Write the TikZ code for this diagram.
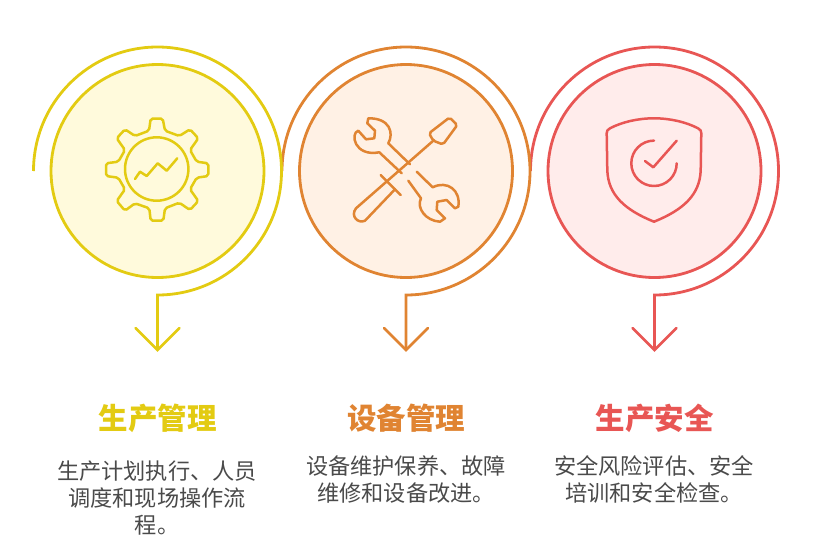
\documentclass[tikz,border=0pt]{standalone}
\usepackage{fontspec}
\setmainfont{Noto Sans CJK SC}
\definecolor{genyellow}{HTML}{E3CB12}
\definecolor{genyellowbg}{HTML}{FFFADC}
\definecolor{equorange}{HTML}{E08432}
\definecolor{equorangebg}{HTML}{FFF1E5}
\definecolor{safered}{HTML}{E85654}
\definecolor{saferedbg}{HTML}{FFECEB}
\definecolor{bodygray}{HTML}{4A4A4A}
\tikzset{
  disc/.style={circle,draw,line width=2.8pt,minimum size=213pt,inner sep=0pt},
  ring/.style={line width=2.8pt},
  glyph/.style={line width=2.5pt,line cap=round,line join=round},
  headline/.style={font=\fontsize{29.5}{32}\selectfont\bfseries,anchor=center},
  bodytext/.style={font=\fontsize{22.2}{27}\selectfont,text=bodygray,align=center,anchor=north,text width=214pt},
}
\begin{document}
\begin{tikzpicture}[x=1pt,y=-1pt]
  \useasboundingbox (0,0) rectangle (816,555);
  % safety
  \node[disc,draw=safered,fill=saferedbg] (safeDisc) at (654.5,171) {};
  \coordinate (safeTip) at (654.5,350);
  \draw[ring,safered] (530.5,171) arc[start angle=180,end angle=450,radius=124] -- (safeTip);
  \draw[ring,safered,line cap=round] (632.5,328) -- (safeTip) -- (676.5,328);
  % equipment
  \node[disc,draw=equorange,fill=equorangebg] (equDisc) at (406,171) {};
  \coordinate (equTip) at (406,350);
  \draw[ring,equorange] (282,171) arc[start angle=180,end angle=450,radius=124] -- (equTip);
  \draw[ring,equorange,line cap=round] (384,328) -- (equTip) -- (428,328);
  % production
  \node[disc,draw=genyellow,fill=genyellowbg] (genDisc) at (157.5,171) {};
  \coordinate (genTip) at (157.5,350);
  \draw[ring,genyellow] (33.5,171) arc[start angle=180,end angle=450,radius=124] -- (genTip);
  \draw[ring,genyellow,line cap=round] (135.5,328) -- (genTip) -- (179.5,328);
  % gear
  \draw[glyph,genyellow] (156.7,169) circle (31.7);
  \draw[glyph,genyellow] (135,179) -- (140,171.7) -- (146.7,176) -- (157.7,163.3) -- (166.7,170.7) -- (177.3,158.3);
  \draw[glyph,genyellow,rounded corners=2pt] (149,130.7) -- (150.7,118.5) -- (162.7,118.5) -- (165,130.7)
    -- (179.3,136) -- (190,129.3) -- (198.3,138.3) -- (190,150) -- (196.7,161.7) -- (208.3,163.3)
    -- (208.3,176) -- (196.7,177.7) -- (190,189.3) -- (198.3,201) -- (190,210) -- (179.3,202.7)
    -- (165,208.3) -- (163.3,220.7) -- (150.7,220.7) -- (149.3,208.3) -- (135,203.3) -- (125,210.7)
    -- (116.7,201) -- (125,189.3) -- (118.3,177.7) -- (106,176) -- (106,163.3) -- (118.3,161.7)
    -- (125,150) -- (116.7,138.3) -- (125,129.3) -- (135,136) -- cycle;
  % tools
  \draw[glyph,equorange] (410,164.3) -- (388.3,143.3) .. controls (394,133) and (390,118) .. (368.3,118.3)
    -- (367.3,123.3) -- (375,130.7) -- (374.3,138.3) -- (366,139.3) -- (358.3,130.7)
    .. controls (350,133) and (354,157) .. (379.3,152.3) -- (401.7,173.3);
  \draw[glyph,equorange] (416.7,171.7) -- (432.7,187.3) .. controls (447,180) and (461,190) .. (458.3,206.7)
    -- (455,208.3) -- (446.7,200) -- (437.3,201.7) -- (436.7,210) -- (445,218.3) -- (440,221.7)
    .. controls (426,221) and (416,208) .. (421,198.3) -- (408.3,180.7);
  \draw[glyph,equorange] (433.3,140.7) -- (356,208.3) .. controls (350,216) and (358,224) .. (365,220.7) -- (395,189.3);
  \draw[glyph,equorange] (380.7,175) -- (400.7,195);
  \draw[glyph,equorange,rounded corners=2pt] (433.3,140.7) -- (429,133.3) -- (449.5,117.5) -- (457.3,125)
    -- (443,144.5) -- cycle;
  % shield
  \draw[glyph,safered] (654,118.3) .. controls (638,118.3) and (622,122) .. (610,128.3)
    .. controls (607.5,129.5) and (606.7,131) .. (606.7,133.3) -- (607.3,170)
    .. controls (608,195) and (625,210) .. (654,221.7) .. controls (683,210) and (700,195) .. (700.7,170)
    -- (701.3,133.3) .. controls (701.3,131) and (700.5,129.5) .. (698,128.3) .. controls (686,122) and (670,118.3) .. cycle;
  \draw[glyph,safered] (654,140.6) arc[start angle=-90,end angle=-360,radius=22.7];
  \draw[glyph,safered] (645,161) -- (653.3,167.3) -- (676.7,140.7);
  % labels
  \node[headline,text=genyellow] (genTitle) at (157.5,418) {生产管理};
  \node[headline,text=equorange] (equTitle) at (406,418) {设备管理};
  \node[headline,text=safered] (safeTitle) at (654.5,418) {生产安全};
  \node[bodytext] (genText) at (157,457.5) {生产计划执行、人员\\调度和现场操作流\\程。};
  \node[bodytext] (equText) at (406,452.5) {设备维护保养、故障\\维修和设备改进。};
  \node[bodytext] (safeText) at (654,452.5) {安全风险评估、安全\\培训和安全检查。};
\end{tikzpicture}
\end{document}
